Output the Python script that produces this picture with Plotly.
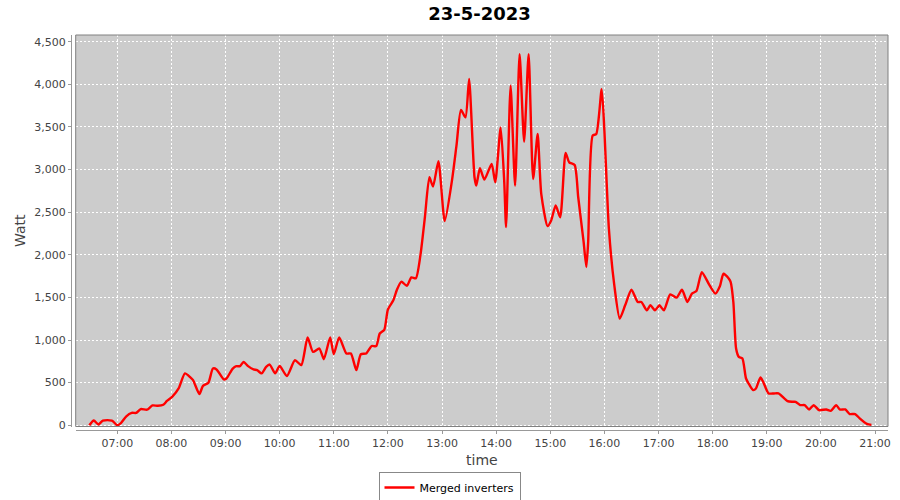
import plotly.graph_objects as go

DAY = "2023-05-23"

times = [
    "06:29", "06:34", "06:39", "06:44", "06:54", "07:00", "07:04", "07:10", "07:16", "07:21",
    "07:26", "07:33", "07:39", "07:45", "07:51", "07:55", "08:01", "08:08", "08:15", "08:21",
    "08:24", "08:31", "08:35", "08:41", "08:46", "08:50", "08:58", "09:01", "09:08", "09:12",
    "09:16", "09:20", "09:25", "09:31", "09:35", "09:40", "09:45", "09:49", "09:55", "10:00",
    "10:08", "10:17", "10:24", "10:31", "10:37", "10:44", "10:49", "10:56", "11:00", "11:06",
    "11:14", "11:19", "11:25", "11:30", "11:36", "11:42", "11:47", "11:51", "11:56", "12:00",
    "12:06", "12:10", "12:15", "12:21", "12:26", "12:31", "12:36", "12:41", "12:46", "12:50",
    "12:56", "13:03", "13:11", "13:16", "13:21", "13:26", "13:30", "13:36", "13:38", "13:42",
    "13:47", "13:55", "13:59", "14:05", "14:09", "14:11", "14:16", "14:21", "14:26", "14:31",
    "14:36", "14:41", "14:46", "14:50", "14:57", "15:01", "15:06", "15:11", "15:17", "15:21",
    "15:27", "15:31", "15:37", "15:40", "15:42", "15:47", "15:51", "15:57", "16:00", "16:05",
    "16:11", "16:17", "16:23", "16:30", "16:37", "16:41", "16:47", "16:51", "16:56", "17:01",
    "17:06", "17:13", "17:20", "17:26", "17:32", "17:37", "17:42", "17:48", "17:56", "18:03",
    "18:08", "18:12", "18:18", "18:20", "18:23", "18:26", "18:29", "18:33", "18:37", "18:41",
    "18:45", "18:48", "18:53", "18:56", "19:02", "19:08", "19:13", "19:23", "19:28", "19:32",
    "19:37", "19:42", "19:47", "19:52", "19:58", "20:06", "20:11", "20:17", "20:21", "20:27",
    "20:32", "20:38", "20:43", "20:51", "20:56",
]

watts = [
    0, 55, 8, 55, 55, 0, 25, 105, 145, 145,
    190, 182, 232, 228, 240, 285, 335, 432, 608, 562,
    530, 366, 462, 498, 665, 655, 538, 548, 665, 693,
    693, 743, 693, 655, 646, 608, 685, 712, 608, 696,
    577, 763, 705, 1030, 860, 900, 775, 1030, 833, 1030,
    842, 842, 646, 833, 842, 930, 928, 1076, 1120, 1358,
    1465, 1590, 1685, 1635, 1735, 1725, 1990, 2440, 2910, 2800,
    3097, 2395, 2870, 3280, 3700, 3612, 4062, 2910, 2812, 3015,
    2882, 3066, 2851, 3495, 2851, 2325, 3983, 2812, 4354, 3327,
    4354, 2890, 3417, 2715, 2336, 2402, 2578, 2441, 3195, 3085,
    3054, 2675, 2148, 1855, 2148, 3398, 3417, 3944, 3456, 2305,
    1641, 1251, 1407, 1590, 1446, 1446, 1348, 1407, 1348, 1407,
    1348, 1536, 1497, 1590, 1446, 1544, 1575, 1797, 1653, 1544,
    1630, 1778, 1719, 1680, 1440, 900, 802, 783, 548, 470,
    412, 431, 560, 509, 373, 373, 373, 283, 275, 275,
    236, 236, 185, 236, 177, 185, 169, 236, 185, 185,
    131, 131, 80, 15, 4,
]

x_vals = [f"{DAY} {t}" for t in times]

fig = go.Figure()
fig.add_trace(go.Scatter(
    x=x_vals, y=watts, mode="lines", name="Merged inverters",
    line=dict(color="#ff0000", width=2.4, shape="spline", smoothing=0.6),
    showlegend=True,
))

L, R, T, B = 71, 12, 35, 70
W, H = 900, 500
pw = W - L - R
ph = H - T - B
dx = 4.7 / pw
dy = 3.5 / ph

tick_font = dict(family="DejaVu Sans", size=11, color="#444444")
grid_dash = "2px,2px"

fig.update_layout(
    width=W, height=H,
    margin=dict(l=L, r=R, t=T, b=B, pad=0, autoexpand=False),
    paper_bgcolor="white",
    plot_bgcolor="#cccccc",
    font=dict(family="DejaVu Sans", size=11, color="#444444"),
    title=dict(text="<b>23-5-2023</b>", x=0.5, xref="paper", xanchor="center",
               y=1 - 14 / H, yref="container", yanchor="middle",
               font=dict(family="DejaVu Sans", size=18, color="black")),
    xaxis=dict(
        domain=[dx, 1],
        anchor="free", position=0,
        type="date",
        range=[f"{DAY} 06:13:54", f"{DAY} 21:14:24"],
        dtick=3600000, tick0=f"{DAY} 07:00",
        tickformat="%H:%M",
        showgrid=True, gridcolor="white", griddash=grid_dash, gridwidth=1,
        showline=True, linecolor="#999999", linewidth=1,
        ticks="outside", ticklen=3, tickcolor="#999999",
        tickfont=tick_font,
        automargin=False,
        title=dict(text="time", font=dict(family="DejaVu Sans", size=14, color="#444444"), standoff=5),
        zeroline=False,
    ),
    yaxis=dict(
        domain=[dy, 1],
        anchor="free", position=0,
        range=[-15, 4579],
        dtick=500, tick0=0,
        tickformat=",d",
        showgrid=True, gridcolor="white", griddash=grid_dash, gridwidth=1,
        showline=True, linecolor="#999999", linewidth=1,
        ticks="outside", ticklen=3, tickcolor="#999999",
        tickfont=tick_font,
        automargin=False,
        title=dict(text="Watt", font=dict(family="DejaVu Sans", size=14, color="#444444"), standoff=4),
        zeroline=False,
    ),
    legend=dict(
        orientation="h",
        xref="container", yref="container",
        x=449.5 / W, xanchor="center",
        y=1 - 487.5 / H, yanchor="middle",
        bordercolor="#888888", borderwidth=1, bgcolor="white",
        font=dict(family="DejaVu Sans", size=11, color="black"),
        itemwidth=30,
    ),
)

fig.add_shape(type="rect", xref="x domain", yref="y domain", x0=0, x1=1, y0=0, y1=1,
              line=dict(color="#808080", width=1), fillcolor="rgba(0,0,0,0)", layer="above")

fig.write_html(
    "out.html",
    config={"displayModeBar": False},
    post_script="document.body.style.margin='0';document.body.style.overflow='hidden';",
)
